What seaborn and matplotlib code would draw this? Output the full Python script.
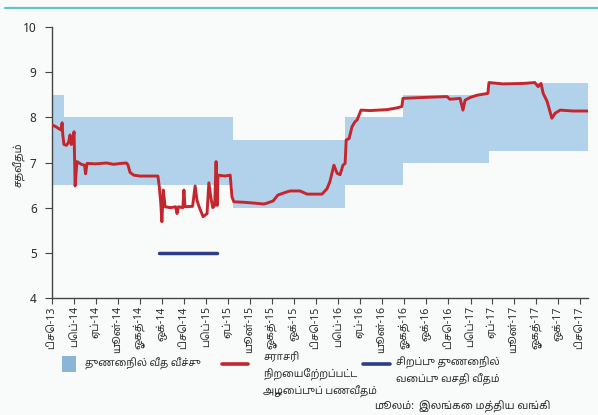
import matplotlib
matplotlib.use("Agg")
import matplotlib.pyplot as plt
from matplotlib.patches import Rectangle
from matplotlib.lines import Line2D
import seaborn as sns
import pandas as pd

# ---------------- data ----------------
awcmr_dates = [
    "2013-12-01", "2013-12-10", "2013-12-18", "2013-12-26", "2013-12-29", "2013-12-31",
    "2014-01-03", "2014-01-10", "2014-01-16", "2014-01-20", "2014-01-23", "2014-01-27",
    "2014-01-31", "2014-02-03", "2014-02-08", "2014-02-20", "2014-03-01", "2014-03-04",
    "2014-03-08", "2014-04-01", "2014-05-01", "2014-05-20", "2014-06-10", "2014-06-25",
    "2014-06-29", "2014-07-05", "2014-07-15", "2014-08-01", "2014-09-01", "2014-09-20",
    "2014-09-24", "2014-09-28", "2014-10-01", "2014-10-05", "2014-10-10", "2014-10-25",
    "2014-11-08", "2014-11-12", "2014-11-16", "2014-11-28", "2014-12-01", "2014-12-04",
    "2014-12-25", "2015-01-01", "2015-01-06", "2015-01-12", "2015-01-23", "2015-02-03",
    "2015-02-08", "2015-02-14", "2015-02-19", "2015-02-24", "2015-02-28", "2015-03-03",
    "2015-03-05", "2015-03-25", "2015-04-08", "2015-04-13", "2015-04-18", "2015-05-15",
    "2015-06-15", "2015-07-10", "2015-07-19", "2015-08-05", "2015-08-18", "2015-09-12",
    "2015-09-21", "2015-10-18", "2015-11-07", "2015-12-18", "2016-01-01", "2016-01-09",
    "2016-01-20", "2016-01-29", "2016-02-06", "2016-02-14", "2016-02-20", "2016-02-23",
    "2016-03-02", "2016-03-10", "2016-03-18", "2016-03-24", "2016-04-04", "2016-04-29",
    "2016-06-15", "2016-07-13", "2016-07-26", "2016-07-29", "2016-09-23", "2016-11-28",
    "2016-12-06", "2017-01-03", "2017-01-11", "2017-01-17", "2017-01-31", "2017-02-19",
    "2017-03-21", "2017-03-24", "2017-05-02", "2017-06-26", "2017-07-29", "2017-08-07",
    "2017-08-15", "2017-08-21", "2017-09-01", "2017-09-14", "2017-09-23", "2017-10-07",
    "2017-11-12", "2017-12-28",
]
awcmr_values = [
    7.83, 7.80, 7.76, 7.72, 7.88, 7.60,
    7.40, 7.38, 7.45, 7.61, 7.40, 7.42,
    7.68, 6.48, 7.02, 6.96, 6.94, 6.75,
    6.98, 6.97, 6.99, 6.96, 6.98, 6.99,
    6.95, 6.78, 6.72, 6.70, 6.70, 6.70,
    6.46, 6.10, 5.69, 6.39, 6.02, 6.00,
    6.02, 5.87, 6.02, 6.00, 6.39, 6.02,
    6.03, 6.48, 6.17, 6.02, 5.80, 5.87,
    6.55, 6.20, 6.00, 6.05, 7.02, 6.05,
    6.72, 6.70, 6.72, 6.24, 6.13, 6.12,
    6.10, 6.08, 6.10, 6.15, 6.28, 6.35,
    6.37, 6.37, 6.30, 6.30, 6.42, 6.58,
    6.94, 6.76, 6.73, 6.94, 6.98, 7.50,
    7.53, 7.79, 7.90, 7.94, 8.16, 8.15,
    8.17, 8.21, 8.24, 8.42, 8.44, 8.46,
    8.40, 8.42, 8.16, 8.38, 8.44, 8.49,
    8.53, 8.77, 8.74, 8.75, 8.77, 8.68,
    8.75, 8.53, 8.35, 7.98, 8.09, 8.16,
    8.14, 8.14,
]

corridor_dates = ["2013-12-01", "2014-01-02", "2015-04-15", "2016-02-19",
                  "2016-07-29", "2017-03-24", "2017-12-23"]
corridor_lower = [6.5, 6.5, 6.0, 6.5, 7.0, 7.25, 7.25]
corridor_upper = [8.5, 8.0, 7.5, 8.0, 8.5, 8.75, 8.75]

sdfr_dates = ["2014-09-23", "2015-03-03"]
sdfr_values = [5.0, 5.0]

tick_dates = pd.date_range("2013-12-01", "2017-12-01", freq="2MS")
month_names = ["டிசெ", "பெப்", "ஏப்", "யூன்", "ஓகத்", "ஒக்"]
tick_labels = [f"{month_names[i % 6]}-{d.strftime('%y')}" for i, d in enumerate(tick_dates)]

yticks = [4, 5, 6, 7, 8, 9, 10]

label_band = "துணைநில் வீத வீச்சு"
label_awcmr = ["சராசரி", "நிறையேற்றப்பட்ட", "அழைப்புப் பணவீதம்"]
label_sdfr = ["சிறப்பு துணைநில்", "வைப்பு வசதி வீதம்"]
ylabel = "சதவீதம்"
source_lead = "மூலம்:"
source_rest = "இலங்கை மத்திய வங்கி"

# ---------------- style ----------------
sns.set_theme(style="white")
FAM = ["Noto Sans Tamil", "DejaVu Sans"]
plt.rcParams["font.family"] = FAM
BG = "#f9fafa"
RED = "#c4262e"
BLUE = "#2c3e85"
BAND = "#b1d2ea"
TXT = "#2b2b2b"
W, H = 598, 415


def fx(px):
    return px / W


def fy(py):
    return 1 - py / H


awcmr = pd.DataFrame({"date": pd.to_datetime(awcmr_dates), "rate": awcmr_values})
sdfr = pd.DataFrame({"date": pd.to_datetime(sdfr_dates), "rate": sdfr_values})
cd = pd.to_datetime(corridor_dates)

fig = plt.figure(figsize=(W / 100, H / 100), dpi=100, facecolor=BG)
ax = fig.add_axes([fx(52), fy(298), fx(588 - 52), (298 - 27) / H])
ax.set_facecolor(BG)

ax.fill_between(cd, corridor_lower, corridor_upper, step="post",
                color=BAND, linewidth=0, zorder=1)
sns.lineplot(data=awcmr, x="date", y="rate", ax=ax, color=RED, linewidth=2.1,
             zorder=3, legend=False)
sns.lineplot(data=sdfr, x="date", y="rate", ax=ax, color=BLUE, linewidth=2.5,
             zorder=3, legend=False)

ax.set_xlim(pd.Timestamp("2013-12-01"), pd.Timestamp("2017-12-23"))
ax.set_ylim(4, 10)
ax.set_yticks(yticks)
ax.set_yticklabels([str(v) for v in yticks], fontsize=8.5, color=TXT)
ax.set_xticks(tick_dates)
ax.set_xticklabels(tick_labels, rotation=90, fontsize=7.5, color=TXT)
ax.set_xlabel("")
ax.set_ylabel(ylabel, fontsize=7.5, color=TXT, fontweight="bold")
ax.yaxis.set_label_coords((25 - 52) / (588 - 52), (298 - 165) / (298 - 27))

for s in ["top", "right"]:
    ax.spines[s].set_visible(False)
for s in ["left", "bottom"]:
    ax.spines[s].set_color("#444444")
    ax.spines[s].set_linewidth(1.0)
ax.tick_params(axis="y", direction="out", length=5, width=0.8, color="#444444", pad=6, left=True)
ax.tick_params(axis="x", direction="out", length=4, width=0.8, color="#444444", pad=2, bottom=True)

# top teal rule
fig.add_artist(Line2D([fx(5), 1.0], [fy(8.5), fy(8.5)],
                      color="#5cc6c4", linewidth=1.6, transform=fig.transFigure))

# legend drawn by hand
LFS = 7.2
fig.add_artist(Rectangle((fx(62), fy(372)), fx(14), 16 / H, facecolor="#8bb4d9",
                         edgecolor="none", transform=fig.transFigure))
fig.text(fx(85), fy(364), label_band, fontsize=LFS, color=TXT, va="center", ha="left")

fig.add_artist(Line2D([fx(222), fx(248)], [fy(363.5), fy(363.5)], color=RED,
                      linewidth=2.6, transform=fig.transFigure))
for i, t in enumerate(label_awcmr):
    fig.text(fx(263), fy(358 + 17 * i), t, fontsize=LFS, color=TXT, va="center", ha="left")

fig.add_artist(Line2D([fx(363), fx(390)], [fy(363.5), fy(363.5)], color=BLUE,
                      linewidth=2.6, transform=fig.transFigure))
for i, t in enumerate(label_sdfr):
    fig.text(fx(396), fy(363 + 17 * i), t, fontsize=LFS, color=TXT, va="center", ha="left")

# source line
lead = fig.text(fx(374), fy(401), source_lead, fontsize=7.5, style="italic",
                color=TXT, va="top", ha="left")
fig.canvas.draw()
bb = lead.get_window_extent()
fig.text((bb.x1 + 5) / W, fy(401), source_rest, fontsize=7.5,
         color=TXT, va="top", ha="left")

fig.savefig("out.png", dpi=100, facecolor=BG)
